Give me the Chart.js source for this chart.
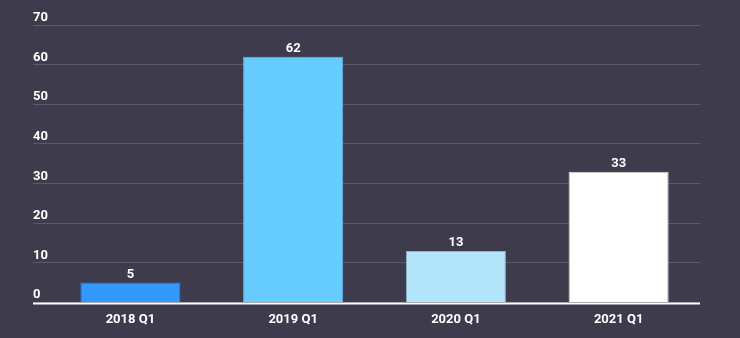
<!DOCTYPE html>
<html>
<head>
<meta charset="utf-8">
<script src="https://cdn.jsdelivr.net/npm/chart.js@4"></script>
<style>
  html, body { margin: 0; padding: 0; background: #3d3b4c; }
  #wrap { width: 740px; height: 338px; }
</style>
</head>
<body>
<div id="wrap"><canvas id="c" width="740" height="338"></canvas></div>
<script>
// datos
const categorias = ["2018 Q1", "2019 Q1", "2020 Q1", "2021 Q1"];
const valores = [5, 62, 13, 33];
const coloresBarra = ["#3399ff", "#66ccff", "#b3e5fb", "#ffffff"];
const bordesBarra = ["#2c7fd6", "#5bb8e8", "#8fb4c8", "#e0e0e0"];
const ticksY = [0, 10, 20, 30, 40, 50, 60, 70];

const FONT = "Roboto, 'Noto Sans', sans-serif";

/* etiquetas del eje Y encima de la linea, linea base y valores */
const decoraciones = {
    id: "decoraciones",
    afterDraw(chart) {
        const ctx = chart.ctx;
        const y = chart.scales.y;
        const area = chart.chartArea;
        ctx.save();
        ctx.font = "bold 13px " + FONT;
        ctx.fillStyle = "#ffffff";
        ctx.textAlign = "left";
        ctx.textBaseline = "alphabetic";
        ticksY.forEach(t => {
            ctx.fillText(String(t), 33, y.getPixelForValue(t) - 4);
        });

        // linea base
        ctx.strokeStyle = "#ffffff";
        ctx.lineWidth = 2;
        ctx.beginPath();
        ctx.moveTo(33, area.bottom + 1);
        ctx.lineTo(area.right, area.bottom + 1);
        ctx.stroke();

        // valores sobre las barras
        ctx.textAlign = "center";
        const meta = chart.getDatasetMeta(0);
        meta.data.forEach((bar, i) => {
            ctx.fillText(String(valores[i]), bar.x, bar.y - 5);
        });
        ctx.restore();
    }
};

new Chart(document.getElementById("c"), {
    type: "bar",
    data: {
        labels: categorias,
        datasets: [{
            data: valores,
            backgroundColor: coloresBarra,
            borderColor: bordesBarra,
            borderWidth: 1,
            categoryPercentage: 1,
            barPercentage: 0.615
        }]
    },
    options: {
        responsive: false,
        animation: false,
        layout: { padding: { left: 33, right: 40, top: 25, bottom: 0 } },
        plugins: {
            legend: { display: false },
            tooltip: { enabled: false }
        },
        scales: {
            x: {
                grid: { display: false, drawTicks: false },
                border: { display: false },
                ticks: {
                    color: "#ffffff",
                    padding: 10,
                    font: { family: FONT, size: 13, weight: "bold" }
                }
            },
            y: {
                min: 0,
                max: 70,
                ticks: { stepSize: 10, display: false },
                border: { display: false },
                grid: {
                    color: "#5c596b",
                    lineWidth: 1,
                    drawTicks: true,
                    tickLength: 16
                }
            }
        }
    },
    plugins: [decoraciones]
});
</script>
</body>
</html>
